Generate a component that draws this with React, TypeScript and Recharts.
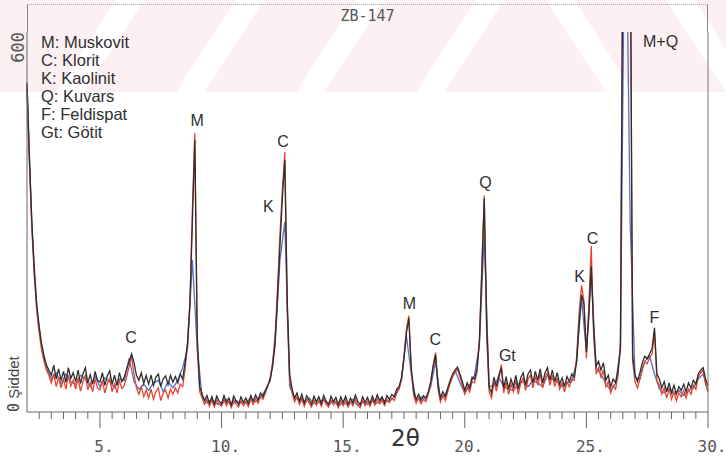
import { LineChart, Line, XAxis, YAxis, ReferenceDot } from "recharts"

// XRD scan of sample ZB-147, 2θ from 2° to 30°
const scanStart = 2
const scanStep = 0.1

// dark trace, one row per degree (2.0 … 2.9, 3.0 … 3.9, …)
const blackCounts = [
  520, 400, 300, 222, 170, 134, 108, 88, 74, 66,
  58, 74, 52, 68, 50, 64, 47, 70, 53, 62,
  48, 66, 45, 60, 70, 46, 59, 44, 64, 50,
  47, 62, 42, 57, 65, 44, 58, 42, 62, 48,
  55, 68, 80, 92, 78, 58, 50, 62, 45, 58,
  44, 58, 42, 55, 60, 40, 52, 57, 43, 58,
  47, 56, 46, 60, 52, 78, 110, 170, 300, 430,
  120, 40, 28, 18, 26, 14, 24, 12, 25, 17,
  13, 26, 15, 22, 11, 25, 17, 12, 24, 15,
  22, 13, 26, 17, 27, 19, 30, 24, 34, 42,
  52, 72, 110, 180, 262, 338, 398, 175, 60, 36,
  22, 30, 17, 28, 14, 26, 19, 12, 25, 16,
  24, 13, 26, 17, 12, 25, 16, 23, 11, 24,
  15, 25, 12, 22, 14, 27, 17, 11, 24, 15,
  23, 13, 25, 16, 27, 18, 24, 14, 26, 20,
  28, 24, 36, 40, 55, 85, 125, 148, 70, 32,
  20, 28, 18, 26, 22, 32, 48, 72, 90, 42,
  22, 32, 24, 38, 50, 60, 66, 71, 60, 48,
  34, 46, 38, 55, 52, 68, 110, 220, 337, 140,
  40, 30, 55, 40, 58, 70, 38, 56, 36, 52,
  40, 58, 36, 54, 62, 42, 60, 66, 46, 64,
  50, 68, 46, 62, 70, 50, 66, 48, 62, 44,
  54, 40, 56, 48, 60, 55, 80, 140, 185, 170,
  95, 150, 230, 130, 72, 80, 66, 78, 50, 58,
  40, 52, 46, 65, 100, 750, 950, 980, 800, 90,
  58, 48, 62, 78, 88, 84, 92, 100, 133, 60,
  52, 38, 48, 32, 46, 30, 42, 28, 40, 34,
  44, 32, 46, 38, 50, 44, 60, 66, 70, 52,
  42,
]

// red trace, same steps
const redCounts = [
  510, 390, 290, 215, 160, 125, 98, 80, 66, 58,
  46, 60, 40, 55, 38, 52, 36, 58, 41, 50,
  36, 54, 33, 48, 58, 35, 47, 32, 52, 38,
  35, 50, 30, 45, 53, 32, 46, 30, 50, 37,
  42, 56, 72, 88, 60, 38, 28, 40, 24, 35,
  22, 36, 20, 32, 38, 18, 30, 35, 22, 36,
  28, 38, 30, 44, 40, 68, 105, 175, 320, 440,
  100, 32, 22, 12, 20, 9, 18, 8, 19, 12,
  9, 20, 10, 17, 7, 19, 12, 8, 18, 10,
  16, 9, 20, 12, 21, 14, 24, 20, 30, 40,
  55, 78, 120, 195, 280, 350, 410, 160, 50, 30,
  16, 24, 12, 22, 9, 20, 14, 8, 19, 11,
  18, 9, 20, 12, 8, 19, 11, 17, 7, 18,
  10, 19, 8, 16, 10, 21, 12, 7, 18, 10,
  17, 9, 19, 11, 21, 13, 18, 10, 20, 15,
  22, 18, 30, 36, 52, 88, 130, 152, 62, 26,
  14, 22, 13, 20, 16, 28, 46, 74, 94, 36,
  16, 26, 18, 32, 46, 56, 62, 68, 55, 42,
  28, 40, 32, 48, 46, 62, 112, 228, 342, 120,
  32, 22, 48, 33, 50, 75, 30, 48, 28, 44,
  32, 50, 28, 46, 54, 34, 52, 58, 38, 56,
  42, 60, 38, 54, 62, 42, 58, 40, 54, 36,
  46, 32, 48, 40, 52, 50, 88, 155, 200, 175,
  85, 170, 262, 120, 60, 70, 55, 66, 40, 48,
  30, 42, 36, 58, 110, 780, 980, 1000, 820, 80,
  48, 38, 52, 70, 80, 76, 86, 92, 125, 50,
  42, 28, 38, 22, 36, 20, 32, 18, 30, 24,
  34, 22, 36, 28, 42, 36, 55, 62, 66, 44,
  32,
]

// blue trace, coarser steps (x.0, x.2, x.4, x.6, x.8 per row)
const blueStep = 0.2
const blueCounts = [
  515, 295, 165, 104, 70,
  52, 62, 45, 60, 48,
  44, 58, 52, 40, 56,
  40, 54, 48, 38, 52,
  50, 85, 48, 36, 44,
  34, 46, 50, 32, 48,
  38, 50, 70, 100, 240,
  100, 24, 14, 20, 13,
  12, 20, 10, 18, 14,
  15, 22, 16, 24, 34,
  50, 105, 240, 300, 40,
  22, 20, 14, 22, 13,
  16, 20, 11, 18, 10,
  14, 12, 20, 10, 16,
  12, 18, 14, 20, 16,
  20, 30, 50, 120, 60,
  18, 24, 20, 40, 80,
  20, 28, 46, 66, 46,
  30, 42, 58, 105, 280,
  40, 42, 55, 40, 36,
  34, 44, 48, 40, 50,
  46, 40, 58, 52, 48,
  40, 46, 48, 80, 180,
  95, 220, 70, 60, 44,
  34, 45, 100, 900, 300,
  55, 52, 80, 88, 60,
  36, 30, 38, 28, 34,
  26, 34, 38, 52, 60,
  34,
]

const majorTicks = [5, 10, 15, 20, 25, 30]
const allTicks = [
  2.5, 3, 3.5, 4, 4.5, 5, 5.5, 6, 6.5, 7, 7.5, 8, 8.5, 9, 9.5, 10,
  10.5, 11, 11.5, 12, 12.5, 13, 13.5, 14, 14.5, 15, 15.5, 16, 16.5, 17,
  17.5, 18, 18.5, 19, 19.5, 20, 20.5, 21, 21.5, 22, 22.5, 23, 23.5, 24,
  24.5, 25, 25.5, 26, 26.5, 27, 27.5, 28, 28.5, 29, 29.5, 30,
]

const legendLines = ["M: Muskovit", "C: Klorit", "K: Kaolinit", "Q: Kuvars", "F: Feldispat", "Gt: Götit"]

const peakText = ["C", "M", "K", "C", "M", "C", "Q", "Gt", "K", "C", "M+Q", "F"]
const peakX = [6.28, 9.0, 11.92, 12.53, 17.72, 18.79, 20.85, 21.75, 24.72, 25.25, 28.05, 27.8]
const peakY = [118, 461, 324, 427, 172, 114, 362, 90, 215, 275, 585, 150]

const toPoints = (counts: number[], step: number) =>
  counts.map((y, i) => ({ x: Math.round((scanStart + i * step) * 100) / 100, y }))

const blackData = toPoints(blackCounts, scanStep)
const redData = toPoints(redCounts, scanStep)
const blueData = toPoints(blueCounts, blueStep)

const mono = "'DejaVu Sans Mono', monospace"
const sans = "'Liberation Sans', Arial, sans-serif"

function XTick({ x, y, payload }: any) {
  const v = payload.value
  const major = majorTicks.includes(v)
  return (
    <g>
      <line x1={x} x2={x} y1={y} y2={y + (major ? 16 : 7)} stroke="#666" />
      {major && (
        <text x={x + 4} y={y + 40} textAnchor="middle" fontFamily={mono} fontSize={16} fill="#555">
          {v}.
        </text>
      )}
    </g>
  )
}

function YTick({ y, payload }: any) {
  if (payload.value === 0) {
    return (
      <text transform={`translate(19, ${y}) rotate(-90)`} textAnchor="start" fontFamily={sans} fontSize={15} fill="#444">
        <tspan fontFamily={mono}>0</tspan> Şiddet
      </text>
    )
  }
  return (
    <text transform={`translate(24, ${y}) rotate(-90)`} textAnchor="end" fontFamily={mono} fontSize={17} fill="#555">
      {payload.value}
    </text>
  )
}

function Watermark() {
  const left = [70, 190, 310, 430]
  const right = [560, 680]
  return (
    <svg width={726} height={95} style={{ position: "absolute", left: 0, top: 0 }}>
      <rect x={0} y={0} width={726} height={92} fill="#f8d9de" opacity={0.4} />
      {left.map((c) => (
        <polygon key={c} points={`${c - 14},92 ${c + 14},92 ${c + 74},0 ${c + 46},0`} fill="#fff" />
      ))}
      {right.map((c) => (
        <polygon key={c} points={`${c - 14},0 ${c + 14},0 ${c + 74},92 ${c + 46},92`} fill="#fff" />
      ))}
    </svg>
  )
}

export default function App() {
  return (
    <div style={{ position: "absolute", left: 0, top: 0, width: 726, height: 461, background: "#fff", overflow: "hidden" }}>
      <Watermark />
      <div
        style={{
          position: "absolute", left: 27, top: 4, width: 681, height: 28,
          borderLeft: "1px solid #888", borderRight: "1px solid #888", borderTop: "1px dotted #aaa",
          boxSizing: "border-box", textAlign: "center", fontFamily: mono, fontSize: 15, color: "#555", lineHeight: "22px",
        }}
      >
        ZB-147
      </div>
      <div style={{ position: "absolute", left: 0, top: 0 }}>
        <LineChart width={726} height={461} margin={{ top: 32, right: 0, bottom: 0, left: 0 }}>
          <XAxis xAxisId="top" orientation="top" type="number" domain={[2, 30]} height={0} tick={false} tickLine={false} axisLine={{ stroke: "#777" }} />
          <XAxis
            dataKey="x" type="number" domain={[2, 30]} ticks={allTicks} interval={0} height={49}
            tickSize={0} tickMargin={0} tickLine={false} axisLine={{ stroke: "#666" }} tick={<XTick />}
          />
          <YAxis
            type="number" domain={[0, 600]} allowDataOverflow ticks={[0, 600]} width={27}
            tickSize={0} tickMargin={0} tickLine={false} axisLine={{ stroke: "#666" }} tick={<YTick />}
          />
          <YAxis yAxisId="right" orientation="right" width={18} tick={false} tickLine={false} axisLine={{ stroke: "#777" }} />
          <Line data={blueData} dataKey="y" stroke="#4f72cc" strokeWidth={1.3} dot={false} isAnimationActive={false} />
          <Line data={redData} dataKey="y" stroke="#e5452e" strokeWidth={1.3} dot={false} isAnimationActive={false} />
          <Line data={blackData} dataKey="y" stroke="#2e2e2e" strokeWidth={1.3} dot={false} isAnimationActive={false} />
          {peakText.map((t, i) => (
            <ReferenceDot
              key={i} x={peakX[i]} y={peakY[i]} r={0} fill="none" stroke="none"
              label={{ value: t, position: "center", fill: "#2f2f2f", fontSize: 16, fontFamily: sans }}
            />
          ))}
        </LineChart>
      </div>
      <div style={{ position: "absolute", left: 41, top: 33, fontFamily: sans, fontSize: 16.5, lineHeight: "18px", color: "#2f2f2f" }}>
        {legendLines.map((l) => (
          <div key={l}>{l}</div>
        ))}
      </div>
      <div style={{ position: "absolute", left: 391, top: 425, fontFamily: "'DejaVu Sans', sans-serif", fontSize: 23, color: "#333" }}>
        2θ
      </div>
    </div>
  )
}
